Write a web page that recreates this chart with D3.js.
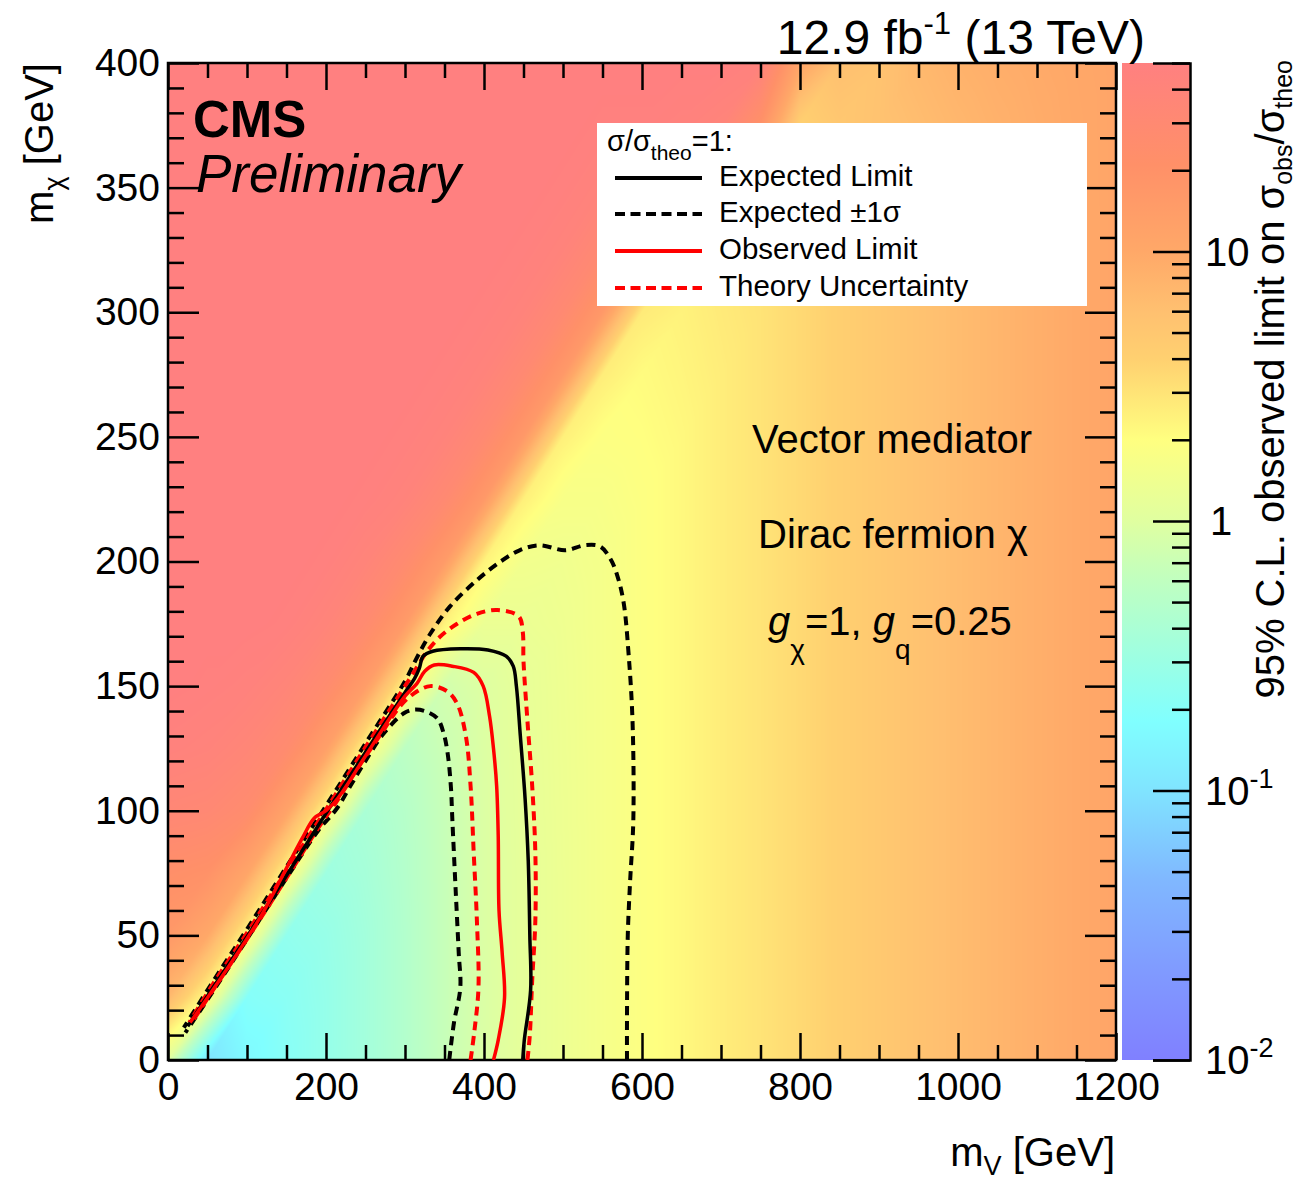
<!DOCTYPE html>
<html>
<head>
<meta charset="utf-8">
<script src="https://cdn.jsdelivr.net/npm/d3@7"></script>
<style>
  body { margin: 0; background: #fff; }
  text { font-family: "Liberation Sans", Arial, Helvetica, sans-serif; fill: #000; }
</style>
</head>
<body>
<svg id="chart" width="1302" height="1184"></svg>
<script>
// grid of the observed limit sigma_obs/sigma_theo (rows: mDM, columns: mMed)
const mMedGrid = d3.range(0, 1201, 50);
const mDMGrid = d3.range(0, 401, 25);
const limitRows = [
  [1.0, 0.1, 0.16, 0.21, 0.27, 0.35, 0.47, 0.67, 0.92, 1.15, 1.35, 1.6, 1.9, 2.2, 2.6, 3.0, 3.5, 4.1, 4.8, 5.6, 6.5, 7.5, 8.6, 9.8, 11],
  [7, 2, 0.2, 0.22, 0.27, 0.35, 0.47, 0.67, 0.92, 1.15, 1.35, 1.6, 1.9, 2.2, 2.6, 3.0, 3.5, 4.1, 4.8, 5.6, 6.5, 7.5, 8.6, 9.8, 11],
  [16, 10, 2.2, 0.25, 0.28, 0.35, 0.47, 0.67, 0.93, 1.15, 1.35, 1.6, 1.9, 2.2, 2.6, 3.0, 3.5, 4.1, 4.8, 5.6, 6.5, 7.5, 8.6, 9.8, 11],
  [22, 20, 11, 2.2, 0.32, 0.37, 0.48, 0.67, 0.93, 1.15, 1.35, 1.6, 1.9, 2.2, 2.6, 3.0, 3.5, 4.1, 4.8, 5.6, 6.5, 7.5, 8.6, 9.8, 11],
  [34, 32, 26, 12, 2.2, 0.4, 0.5, 0.68, 0.94, 1.16, 1.36, 1.6, 1.9, 2.2, 2.6, 3.0, 3.5, 4.1, 4.8, 5.6, 6.5, 7.5, 8.6, 9.8, 11],
  [45, 42, 36, 27, 13, 2.2, 0.56, 0.72, 0.95, 1.17, 1.37, 1.6, 1.9, 2.2, 2.6, 3.0, 3.5, 4.1, 4.8, 5.6, 6.5, 7.5, 8.6, 9.8, 11],
  [50, 48, 45, 38, 27, 14, 2.3, 0.8, 0.97, 1.18, 1.38, 1.6, 1.9, 2.2, 2.6, 3.0, 3.5, 4.1, 4.8, 5.6, 6.5, 7.5, 8.6, 9.8, 11],
  [50, 50, 50, 48, 40, 28, 15, 2.4, 1.3, 1.3, 1.4, 1.6, 1.9, 2.2, 2.6, 3.0, 3.5, 4.1, 4.8, 5.6, 6.5, 7.5, 8.6, 9.8, 11],
  [50, 50, 50, 50, 48, 40, 28, 15, 2.4, 1.5, 1.45, 1.6, 1.9, 2.2, 2.6, 3.0, 3.5, 4.1, 4.8, 5.6, 6.5, 7.5, 8.6, 9.8, 11],
  [50, 50, 50, 50, 50, 48, 42, 30, 16, 2.5, 1.7, 1.7, 1.9, 2.2, 2.6, 3.0, 3.5, 4.1, 4.8, 5.6, 6.5, 7.5, 8.6, 9.8, 11],
  [50, 50, 50, 50, 50, 50, 48, 42, 30, 16, 2.5, 1.9, 2.0, 2.2, 2.6, 3.0, 3.5, 4.1, 4.8, 5.6, 6.5, 7.5, 8.6, 9.8, 11],
  [50, 50, 50, 50, 50, 50, 50, 48, 42, 30, 16, 2.6, 2.1, 2.3, 2.6, 3.0, 3.5, 4.1, 4.8, 5.6, 6.5, 7.5, 8.6, 9.8, 11],
  [50, 50, 50, 50, 50, 50, 50, 50, 48, 42, 30, 16, 2.7, 2.4, 2.7, 3.0, 3.5, 4.1, 4.8, 5.6, 6.5, 7.5, 8.6, 9.8, 11],
  [50, 50, 50, 50, 50, 50, 50, 50, 50, 48, 42, 30, 16, 2.8, 2.8, 3.1, 3.6, 4.2, 4.9, 5.7, 6.6, 7.6, 8.7, 9.8, 11],
  [50, 50, 50, 50, 50, 50, 50, 50, 50, 50, 48, 42, 30, 17, 3.0, 3.3, 3.8, 4.4, 5.1, 5.9, 6.8, 7.8, 8.8, 9.9, 11],
  [50, 50, 50, 50, 50, 50, 50, 50, 50, 50, 50, 48, 48, 45, 40, 20, 4.0, 5.0, 5.6, 6.4, 7.3, 8.2, 9.1, 10, 11],
  [50, 50, 50, 50, 50, 50, 50, 50, 50, 50, 50, 50, 50, 50, 50, 45, 11, 6.0, 5.5, 7.0, 8.0, 8.8, 9.5, 10.2, 11]
];

// sigma/sigma_theo = 1 contours, [mMed, mDM]
const expectedLimit = [[449,0],[451,8],[459,28],[458,50],[456,80],[452,105],[446,130],[441,150],[437,158],[428,162],[405,164.5],[370,165],[335,164],[323,162],[318,157],[312,153],[300,147.5],[250,123.5],[200,99],[150,74],[100,49.5],[60,30.5],[25,13.5]];
const expectedUp = [[581,0],[581,16],[582,50],[585,72],[589,96],[588,136],[583,163],[577,183],[570,193],[561,200.5],[547,206],[527,206.5],[503,204.5],[470,206.5],[445,204.5],[421,200],[391,192.5],[357,182],[332,171],[316,162],[300,152],[250,127],[200,102],[150,77.5],[100,52.5],[60,33],[20,13]];
const expectedDown = [[356,0],[362,15],[370,29],[368,43],[364,69],[360,96],[358,110],[354,123],[349,131],[341,137],[325,140],[310,140.5],[298,139],[273,131],[250,120],[231,110],[214,101],[190,92],[150,73],[100,48.5],[60,29],[22,11]];
const observedLimit = [[412,0],[418,8],[426,25],[423,43],[419,60],[418,90],[416,110],[412,125],[407,138],[399,150],[387,155.5],[360,158],[337,158.5],[325,156],[315,151],[300,146],[250,122],[215,105],[200,100],[185,97],[170,89],[150,77],[120,59],[80,39],[50,25],[28,15]];
const theoryUp = [[455,0],[458,10],[461,32],[465,56],[465,83],[461,110],[455,136],[450,160],[449,172],[444,178],[417,180.5],[391,179],[366,175],[345,170],[328,164],[315,157.5],[300,150],[250,125.5],[200,100.5],[150,76],[100,51],[60,32],[27,15]];
const theoryDown = [[383,0],[388,12],[393,29],[391,56],[387,83],[383,110],[377,130],[366,143],[353,148],[332,150],[311,147],[294,142],[270,131],[240,117],[214,104],[190,93],[150,73],[100,48.5],[60,29.5],[30,15]];

const xTicks = d3.range(0, 1201, 200);
const yTicks = d3.range(0, 401, 50);
const zRange = [0.01, 50];
const zLabels = [[0.01, "10", "-2"], [0.1, "10", "-1"], [1, "1", ""], [10, "10", ""]];

// palette
const zStops = [0.01, 0.02, 0.047, 0.1, 0.18, 0.6, 1, 2, 4, 6, 10, 21, 50];
const zColors = ["#8080ff", "#8098ff", "#80b8ff", "#80e4ff", "#80ffff", "#c0ffc0", "#e0ffa0", "#ffff80", "#ffd070", "#ffc070", "#ffa868", "#ff9068", "#ff8080"];

const svg = d3.select("#chart");
const x = d3.scaleLinear().domain([0, 1200]).range([168, 1116]);
const y = d3.scaleLinear().domain([0, 400]).range([1060, 63]);
const z = d3.scaleLog().domain(zRange).range([1060, 63]);
const color = d3.scaleLog().domain(zStops).range(zColors).interpolate(d3.interpolateRgb).clamp(true);

// ---- heat map (triangulated cells, log interpolation) ----
const logRows = limitRows.map(r => r.map(Math.log10));
const W = 948, H = 997;
const canvas = document.createElement("canvas");
canvas.width = W; canvas.height = H;
const ctx = canvas.getContext("2d");
const img = ctx.createImageData(W, H);
const lo = Math.log10(zRange[0]), hi = Math.log10(zRange[1]);
const lut = d3.range(1024).map(i => d3.rgb(color(Math.pow(10, lo + i / 1023 * (hi - lo)))));
for (let py = 0; py < H; py++) {
  const d = y.invert(63 + py + 0.5);
  const j = Math.max(0, Math.min(mDMGrid.length - 2, d3.bisectRight(mDMGrid, d) - 1));
  const v = (d - mDMGrid[j]) / (mDMGrid[j + 1] - mDMGrid[j]);
  for (let px = 0; px < W; px++) {
    const m = x.invert(168 + px + 0.5);
    const i = Math.max(0, Math.min(mMedGrid.length - 2, d3.bisectRight(mMedGrid, m) - 1));
    const u = (m - mMedGrid[i]) / (mMedGrid[i + 1] - mMedGrid[i]);
    const bl = logRows[j][i], br = logRows[j][i + 1], tl = logRows[j + 1][i], tr = logRows[j + 1][i + 1];
    const f = v >= u ? bl + v * (tl - bl) + u * (tr - tl) : bl + u * (br - bl) + v * (tr - br);
    const k = Math.max(0, Math.min(1023, Math.round((f - lo) / (hi - lo) * 1023)));
    const c = lut[k], o = (py * W + px) * 4;
    img.data[o] = c.r; img.data[o + 1] = c.g; img.data[o + 2] = c.b; img.data[o + 3] = 255;
  }
}
ctx.putImageData(img, 0, 0);
svg.append("image").attr("x", 168).attr("y", 63).attr("width", W).attr("height", H)
  .attr("preserveAspectRatio", "none").attr("href", canvas.toDataURL());

// ---- colour bar ----
const defs = svg.append("defs");
const grad = defs.append("linearGradient").attr("id", "zgrad")
  .attr("x1", 0).attr("y1", 1).attr("x2", 0).attr("y2", 0);
zStops.forEach((s, i) => {
  grad.append("stop")
    .attr("offset", (Math.log10(s) - lo) / (hi - lo))
    .attr("stop-color", zColors[i]);
});
svg.append("rect").attr("x", 1122).attr("y", 63).attr("width", 68).attr("height", 997).attr("fill", "url(#zgrad)");

const zMajor = zLabels.map(d => d[0]);
const zMinor = z.ticks().filter(t => !zMajor.some(mj => Math.abs(mj - t) < 1e-9));
svg.append("g").attr("transform", "translate(1190,0)")
  .call(d3.axisRight(z).tickValues(zMinor).tickSize(-18).tickFormat(""))
  .call(g => g.selectAll("line").attr("stroke-width", 2.5));
svg.append("g").attr("transform", "translate(1190,0)")
  .call(d3.axisRight(z).tickValues(zMajor).tickSizeOuter(0).tickSize(-37).tickFormat(""))
  .call(g => g.select(".domain").attr("stroke-width", 2.5))
  .call(g => g.selectAll("line").attr("stroke-width", 2.5));
zLabels.forEach(([v, base, sup]) => {
  const t = svg.append("text").attr("x", base === "1" ? 1210 : 1205).attr("y", z(v)).attr("dy", "0.36em").attr("font-size", 40);
  t.append("tspan").text(base);
  if (sup) t.append("tspan").attr("font-size", 27).attr("dy", -17).text(sup);
});

// ---- axes ----
function styleAxis(g) {
  g.select(".domain").remove();
  g.selectAll("line").attr("stroke", "#000").attr("stroke-width", 2.5);
  g.selectAll("text").attr("font-size", 39).attr("font-family", '"Liberation Sans", Arial, sans-serif');
}
const xMinor = d3.range(0, 1201, 50).filter(v => v % 200 !== 0);
const yMinor = d3.range(0, 401, 10).filter(v => v % 50 !== 0);
svg.append("g").attr("transform", "translate(0,1060)")
  .call(d3.axisBottom(x).tickValues(xMinor).tickSize(-15).tickFormat("")).call(styleAxis);
svg.append("g").attr("transform", "translate(0,1060)")
  .call(d3.axisBottom(x).tickValues(xTicks).tickSize(-27).tickPadding(12).tickFormat(d3.format("d"))).call(styleAxis);
svg.append("g").attr("transform", "translate(0,63)")
  .call(d3.axisTop(x).tickValues(xMinor).tickSize(-15).tickFormat("")).call(styleAxis);
svg.append("g").attr("transform", "translate(0,63)")
  .call(d3.axisTop(x).tickValues(xTicks).tickSize(-27).tickFormat("")).call(styleAxis);
svg.append("g").attr("transform", "translate(168,0)")
  .call(d3.axisLeft(y).tickValues(yMinor).tickSize(-16).tickFormat("")).call(styleAxis);
svg.append("g").attr("transform", "translate(168,0)")
  .call(d3.axisLeft(y).tickValues(yTicks).tickSize(-31).tickPadding(8).tickFormat(d3.format("d"))).call(styleAxis);
svg.append("g").attr("transform", "translate(1116,0)")
  .call(d3.axisRight(y).tickValues(yMinor).tickSize(-16).tickFormat("")).call(styleAxis);
svg.append("g").attr("transform", "translate(1116,0)")
  .call(d3.axisRight(y).tickValues(yTicks).tickSize(-31).tickFormat("")).call(styleAxis);

svg.append("rect").attr("x", 168).attr("y", 63).attr("width", 948).attr("height", 997)
  .attr("fill", "none").attr("stroke", "#000").attr("stroke-width", 2.5);

// ---- contours ----
defs.append("clipPath").attr("id", "plotclip").append("rect")
  .attr("x", 168).attr("y", 63).attr("width", 948).attr("height", 997);
const line = d3.line().x(d => x(d[0])).y(d => y(d[1])).curve(d3.curveCatmullRom.alpha(0.5));
const contours = [
  { data: expectedUp, stroke: "#000", dash: "9,6" },
  { data: expectedDown, stroke: "#000", dash: "9,6" },
  { data: theoryUp, stroke: "#ff0000", dash: "9,6" },
  { data: theoryDown, stroke: "#ff0000", dash: "9,6" },
  { data: expectedLimit, stroke: "#000", dash: null },
  { data: observedLimit, stroke: "#ff0000", dash: null }
];
const cg = svg.append("g").attr("clip-path", "url(#plotclip)");
contours.forEach(c => {
  cg.append("path").attr("d", line(c.data)).attr("fill", "none")
    .attr("stroke", c.stroke).attr("stroke-width", c.dash ? 4 : 3.5)
    .attr("stroke-dasharray", c.dash);
});

// ---- legend ----
const lg = svg.append("g");
lg.append("rect").attr("x", 597).attr("y", 123).attr("width", 490).attr("height", 183).attr("fill", "#fff");
const head = lg.append("text").attr("x", 607).attr("y", 151).attr("font-size", 29);
head.append("tspan").text("σ/σ");
head.append("tspan").attr("font-size", 21).attr("dy", 9).text("theo");
head.append("tspan").attr("dy", -9).text("=1:");
const entries = [
  { label: "Expected Limit", stroke: "#000", dash: null, y: 178 },
  { label: "Expected ±1σ", stroke: "#000", dash: "10,5.5", y: 214 },
  { label: "Observed Limit", stroke: "#ff0000", dash: null, y: 251 },
  { label: "Theory Uncertainty", stroke: "#ff0000", dash: "10,5.5", y: 288 }
];
entries.forEach(e => {
  lg.append("line").attr("x1", 615).attr("x2", 702).attr("y1", e.y).attr("y2", e.y)
    .attr("stroke", e.stroke).attr("stroke-width", 4).attr("stroke-dasharray", e.dash);
  lg.append("text").attr("x", 719).attr("y", e.y + 8).attr("font-size", 29.5).text(e.label);
});

// ---- labels ----
svg.append("text").attr("x", 193).attr("y", 137).attr("font-size", 51).attr("font-weight", "bold").text("CMS");
svg.append("text").attr("x", 196).attr("y", 192).attr("font-size", 53).attr("font-style", "italic").text("Preliminary");

const title = svg.append("text").attr("x", 1145).attr("y", 54).attr("text-anchor", "end").attr("font-size", 48);
title.append("tspan").text("12.9 fb");
title.append("tspan").attr("font-size", 31).attr("dy", -20).text("-1");
title.append("tspan").attr("dy", 20).text(" (13 TeV)");

svg.append("text").attr("x", 752).attr("y", 453).attr("font-size", 40).text("Vector mediator");
svg.append("text").attr("x", 758).attr("y", 548).attr("font-size", 40).text("Dirac fermion χ");
const gt = svg.append("text").attr("x", 768).attr("y", 635).attr("font-size", 40);
gt.append("tspan").attr("font-style", "italic").text("g");
gt.append("tspan").attr("font-size", 28).attr("dy", 24).text("χ");
gt.append("tspan").attr("dy", -24).text("=1, ");
gt.append("tspan").attr("font-style", "italic").text("g");
gt.append("tspan").attr("font-size", 28).attr("dy", 24).text("q");
gt.append("tspan").attr("dy", -24).text("=0.25");

const xt = svg.append("text").attr("x", 1115).attr("y", 1166).attr("text-anchor", "end").attr("font-size", 40);
xt.append("tspan").text("m");
xt.append("tspan").attr("font-size", 27).attr("dy", 9).text("V");
xt.append("tspan").attr("dy", -9).text(" [GeV]");

const yt = svg.append("text").attr("transform", "translate(53,63) rotate(-90)").attr("text-anchor", "end").attr("font-size", 40);
yt.append("tspan").text("m");
yt.append("tspan").attr("font-size", 27).attr("dy", 10).text("χ");
yt.append("tspan").attr("dy", -10).text(" [GeV]");

const zt = svg.append("text").attr("transform", "translate(1284,60) rotate(-90)").attr("text-anchor", "end").attr("font-size", 40);
zt.append("tspan").text("95% C.L. observed limit on σ");
zt.append("tspan").attr("font-size", 25).attr("dy", 8).text("obs");
zt.append("tspan").attr("dy", -8).text("/σ");
zt.append("tspan").attr("font-size", 25).attr("dy", 8).text("theo");
</script>
</body>
</html>
